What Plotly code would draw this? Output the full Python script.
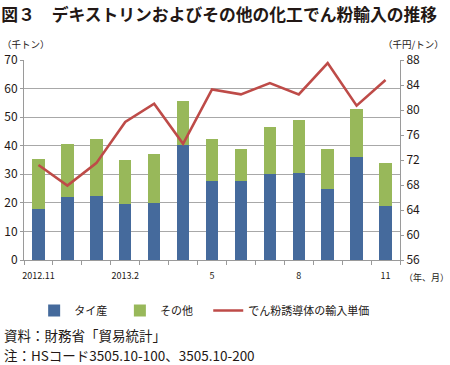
import plotly.graph_objects as go

months = ["2012.11", "12", "2013.1", "2013.2", "3", "4", "5", "6", "7", "8", "9", "10", "11"]
tick_idx = [0, 3, 6, 9, 12]
tick_text = ["2012.11", "2013.2", "5", "8", "11"]
thai = [17.7, 22.0, 22.5, 19.6, 19.9, 40.2, 27.7, 27.7, 30.1, 30.4, 24.8, 36.0, 18.8]
total = [35.3, 40.7, 42.2, 35.0, 37.1, 55.6, 42.2, 38.7, 46.4, 48.9, 38.9, 52.9, 33.8]
other = [round(t - a, 1) for t, a in zip(total, thai)]
price = [71.2, 67.9, 71.5, 78.1, 81.0, 74.6, 83.3, 82.5, 84.3, 82.5, 87.5, 80.7, 84.8]

FONT = "Noto Sans CJK JP"
x = list(range(len(months)))

fig = go.Figure()
fig.add_trace(go.Bar(x=x, y=thai, name="タイ産", marker=dict(color="#456A9C", line=dict(width=0)),
                     width=0.43, legend="legend"))
fig.add_trace(go.Bar(x=x, y=other, name="その他", marker=dict(color="#98B85A", line=dict(width=0)),
                     width=0.43, legend="legend2"))
fig.add_trace(go.Scatter(x=x, y=price, name="でん粉誘導体の輸入単価", mode="lines",
                         line=dict(color="#BE4B48", width=2.6), yaxis="y2", legend="legend3"))
# invisible trace carrying the boundary tick axis
fig.add_trace(go.Scatter(x=[-0.5, 12.5], y=[0, 0], mode="lines", line=dict(width=0),
                         xaxis="x2", showlegend=False, hoverinfo="skip"))

leg_common = dict(orientation="h", y=-0.18, yanchor="top", xanchor="left",
                  font=dict(size=11, color="#231815"), bgcolor="rgba(0,0,0,0)")

fig.update_layout(
    width=450, height=365,
    margin=dict(l=24, r=50, t=60, b=105, autoexpand=False),
    paper_bgcolor="white", plot_bgcolor="white",
    barmode="stack",
    font=dict(family=FONT, color="#231815"),
    title=dict(text="<b>図３　デキストリンおよびその他の化工でん粉輸入の推移</b>",
               font=dict(size=16.8, family=FONT, color="#231815"),
               xref="container", x=0.003, xanchor="left", yref="container", y=0.958, yanchor="middle"),
    xaxis=dict(range=[-0.5, 12.5], tickmode="array", tickvals=tick_idx, ticktext=tick_text,
               ticks="", showgrid=False, showline=True, linecolor="#9A9A9A", linewidth=1,
               ticklabelstandoff=7,
               tickfont=dict(size=9, color="#231815"), zeroline=False, automargin=False),
    xaxis2=dict(range=[-0.5, 12.5], overlaying="x", anchor="y", tickmode="array",
                tickvals=[i - 0.5 for i in range(14)], showticklabels=False, ticks="outside",
                ticklen=4, tickcolor="#9A9A9A", showgrid=False, showline=False, zeroline=False,
                automargin=False),
    yaxis=dict(range=[0, 70], dtick=10, showgrid=True, gridcolor="#A8A8A8", gridwidth=1,
               showline=True, linecolor="#9A9A9A", ticks="outside", ticklen=3, tickcolor="#9A9A9A",
               tickfont=dict(size=12, color="#231815"), zeroline=False, automargin=False),
    yaxis2=dict(range=[56, 88], dtick=4, overlaying="y", side="right", showgrid=False,
                showline=True, linecolor="#9A9A9A", ticks="outside", ticklen=3, tickcolor="#9A9A9A",
                tickfont=dict(size=12, color="#231815"), zeroline=False, automargin=False),
    legend=dict(x=0.027, **leg_common),
    legend2=dict(x=0.255, **leg_common),
    legend3=dict(x=0.49, **leg_common),
    showlegend=True,
)

fig.add_annotation(text="（千トン）", xref="paper", yref="paper", x=0.005, y=1.08,
                   showarrow=False, font=dict(size=9.5), xanchor="center", yanchor="middle")
fig.add_annotation(text="（千円/トン）", xref="paper", yref="paper", x=1.037, y=1.08,
                   showarrow=False, font=dict(size=9.5), xanchor="center", yanchor="middle")
fig.add_annotation(text="（年、月）", xref="paper", yref="paper", x=1.071, y=-0.087,
                   showarrow=False, font=dict(size=9), xanchor="center", yanchor="middle")
fig.add_annotation(text="資料：財務省「貿易統計」", xref="paper", yref="paper", x=-0.058, y=-0.377,
                   showarrow=False, font=dict(size=13.5), xanchor="left", yanchor="middle")
fig.add_annotation(text="注：HSコード3505.10-100、3505.10-200", xref="paper", yref="paper",
                   x=-0.058, y=-0.476, showarrow=False, font=dict(size=13.5),
                   xanchor="left", yanchor="middle")

fig.write_html("out.html", config={"displayModeBar": False},
               post_script="document.body.style.margin='0';")
